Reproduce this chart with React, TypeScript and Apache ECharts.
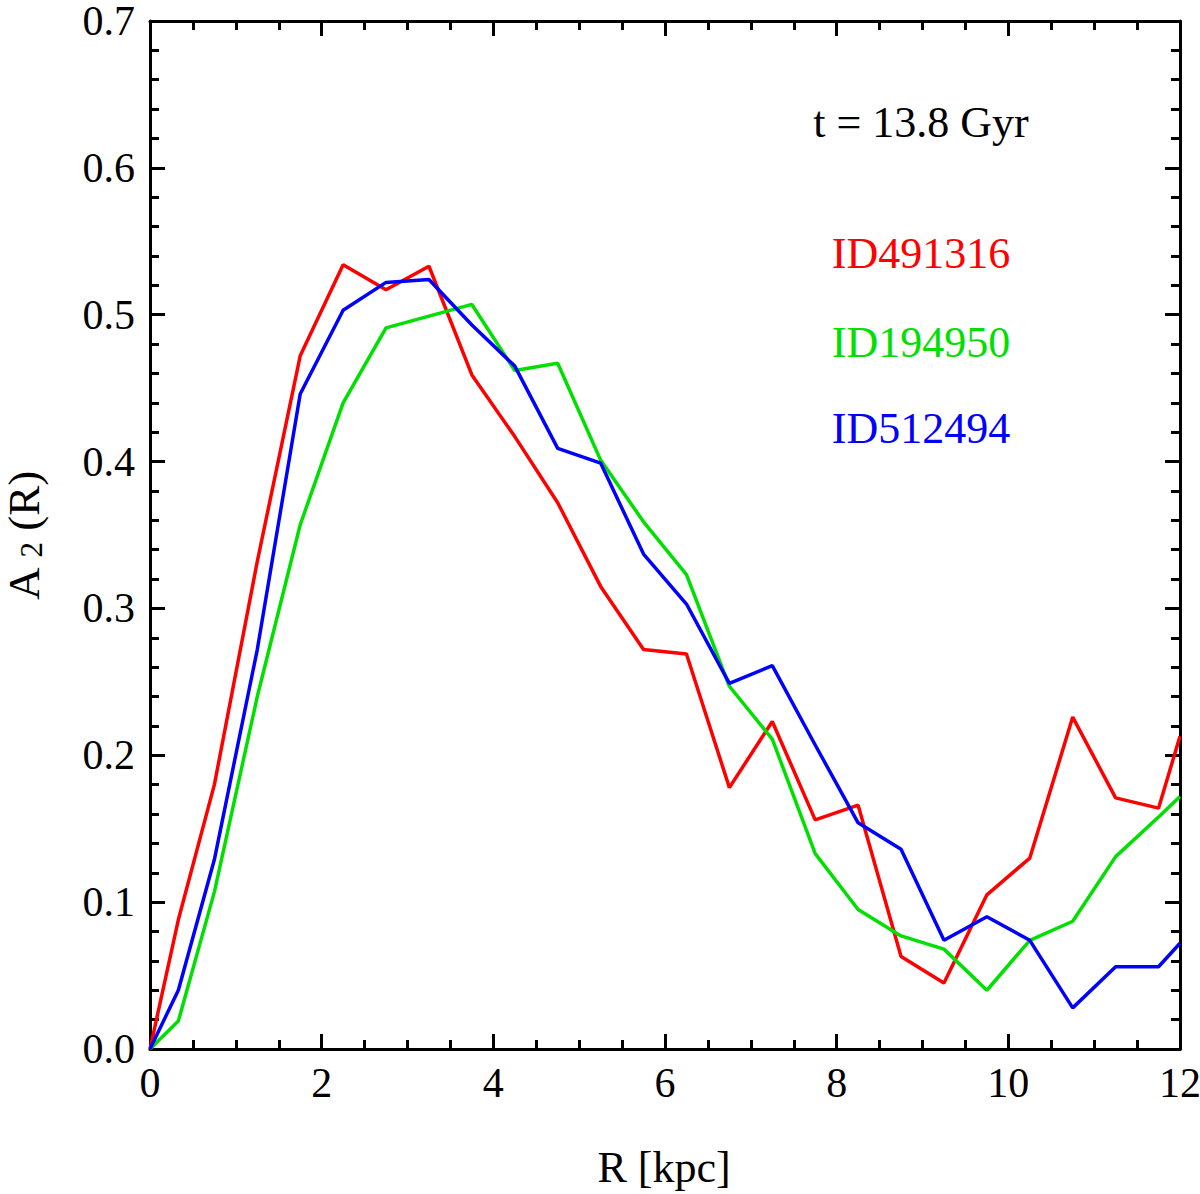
import React, { useEffect, useRef } from 'react';
import * as echarts from 'echarts';

// radii of the bins [kpc]
const radius = [0, 0.33, 0.75, 1.25, 1.75, 2.25, 2.75, 3.25, 3.75, 4.25, 4.75, 5.25, 5.75, 6.25, 6.75, 7.25, 7.75, 8.25, 8.75, 9.25, 9.75, 10.25, 10.75, 11.25, 11.75, 12];

const a2Red = [0, 0.088, 0.180, 0.332, 0.472, 0.534, 0.517, 0.533, 0.459, 0.417, 0.372, 0.315, 0.272, 0.269, 0.178, 0.223, 0.156, 0.166, 0.063, 0.045, 0.105, 0.130, 0.226, 0.171, 0.164, 0.213];
const a2Green = [0, 0.019, 0.107, 0.240, 0.357, 0.440, 0.491, 0.499, 0.507, 0.462, 0.467, 0.401, 0.359, 0.323, 0.247, 0.211, 0.133, 0.095, 0.077, 0.068, 0.040, 0.074, 0.087, 0.131, 0.158, 0.172];
const a2Blue = [0, 0.040, 0.129, 0.272, 0.446, 0.503, 0.522, 0.524, 0.493, 0.465, 0.409, 0.399, 0.337, 0.303, 0.249, 0.261, 0.207, 0.154, 0.136, 0.074, 0.090, 0.074, 0.028, 0.056, 0.056, 0.072];

const galaxyNames = ['ID491316', 'ID194950', 'ID512494'];
const galaxyColors = ['#ff0000', '#00e000', '#0000ff'];

const FONT = '"Liberation Serif", "Times New Roman", serif';

const pairs = (ys: number[]) => radius.map((r, i) => [r, ys[i]]);

const App: React.FC = () => {
    const chartRef = useRef<HTMLDivElement>(null);

    useEffect(() => {
        const chartDom = chartRef.current!;
        const myChart = echarts.init(chartDom, null, { renderer: 'svg' });

        const axisCommon = {
            axisLine: { onZero: false, lineStyle: { color: '#000', width: 3 } },
            axisTick: { inside: true, length: 15, lineStyle: { color: '#000', width: 3 } },
            minorTick: { show: true, length: 9, lineStyle: { color: '#000', width: 3 } },
            splitLine: { show: false },
        };

        const xBase = { type: 'value', min: 0, max: 12, interval: 2, ...axisCommon, minorTick: { ...axisCommon.minorTick, splitNumber: 4 } };
        const yBase = { type: 'value', min: 0, max: 0.7, interval: 0.1, ...axisCommon, minorTick: { ...axisCommon.minorTick, splitNumber: 5 } };

        const option: any = {
            animation: false,
            grid: { left: 150, right: 20, top: 21, bottom: 145, containLabel: false, outerBoundsMode: 'none' },
            xAxis: [
                {
                    ...xBase,
                    position: 'bottom',
                    axisLabel: { margin: 16, fontSize: 42, lineHeight: 36, color: '#000', fontFamily: FONT, showMinLabel: true, showMaxLabel: true },
                },
                { ...xBase, position: 'top', axisLabel: { show: false } },
            ],
            yAxis: [
                {
                    ...yBase,
                    position: 'left',
                    axisLabel: {
                        margin: 15, fontSize: 42, lineHeight: 34, color: '#000', fontFamily: FONT, showMinLabel: true, showMaxLabel: true,
                        formatter: (v: number) => v.toFixed(1),
                    },
                },
                { ...yBase, position: 'right', axisLabel: { show: false } },
            ],
            series: [a2Red, a2Green, a2Blue].map((ys, i) => ({
                type: 'line',
                name: galaxyNames[i],
                xAxisIndex: 0,
                yAxisIndex: 0,
                data: pairs(ys),
                showSymbol: false,
                clip: true,
                lineStyle: { color: galaxyColors[i], width: 3.5 },
            })),
            graphic: [
                {
                    type: 'text', x: 921, y: 122,
                    style: { text: 't = 13.8 Gyr', font: `44px ${FONT}`, fill: '#000', textAlign: 'center', textVerticalAlign: 'middle' },
                },
                ...galaxyNames.map((name, i) => ({
                    type: 'text', x: 921, y: [253, 342, 428][i],
                    style: { text: name, font: `44px ${FONT}`, fill: galaxyColors[i], textAlign: 'center', textVerticalAlign: 'middle' },
                })),
                {
                    type: 'text', x: 664, y: 1167,
                    style: { text: 'R [kpc]', font: `44px ${FONT}`, fill: '#000', textAlign: 'center', textVerticalAlign: 'middle' },
                },
                {
                    type: 'text', x: 24, y: 536, rotation: Math.PI / 2,
                    style: {
                        text: '{a|A }{s|2}{a| (R)}',
                        textAlign: 'center',
                        textVerticalAlign: 'middle',
                        rich: {
                            a: { fontSize: 45, fontFamily: FONT, fill: '#000', verticalAlign: 'bottom' },
                            s: { fontSize: 31, fontFamily: FONT, fill: '#000', verticalAlign: 'bottom' },
                        },
                    },
                },
            ],
        };

        myChart.setOption(option);

        return () => {
            myChart.dispose();
        };
    }, []);

    return <div ref={chartRef} style={{ position: 'absolute', left: 0, top: 0, width: 1200, height: 1194 }} />;
};

export default App;
